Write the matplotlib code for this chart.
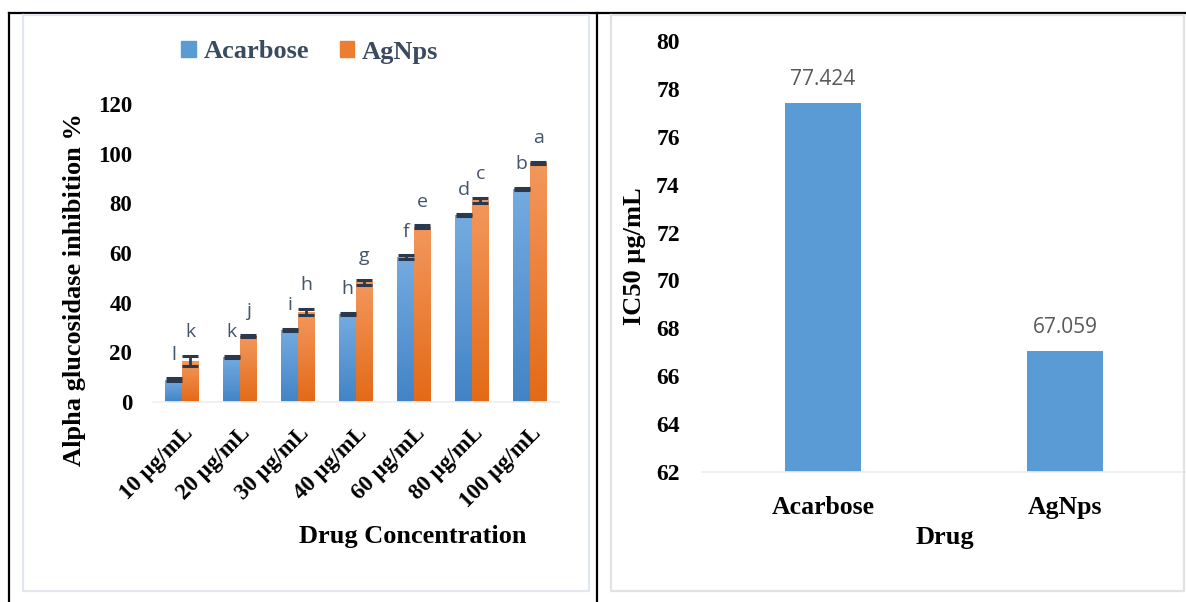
import numpy as np
import matplotlib
matplotlib.use('Agg')
import matplotlib.pyplot as plt
from matplotlib.colors import LinearSegmentedColormap
from matplotlib.lines import Line2D
from matplotlib.patches import Patch

# data
concs = ['10 µg/mL', '20 µg/mL', '30 µg/mL', '40 µg/mL', '60 µg/mL', '80 µg/mL', '100 µg/mL']
acarbose = [9.0, 18.2, 29.0, 35.3, 58.2, 75.2, 85.8]
acarbose_err = [0.5, 0.4, 0.4, 0.4, 0.8, 0.4, 0.4]
agnps = [16.5, 26.5, 36.2, 48.2, 70.6, 81.2, 96.2]
agnps_err = [2.0, 0.5, 1.2, 1.0, 0.5, 1.0, 0.4]
acarbose_letters = ['l', 'k', 'i', 'h', 'f', 'd', 'b']
agnps_letters = ['k', 'j', 'h', 'g', 'e', 'c', 'a']

drugs = ['Acarbose', 'AgNps']
ic50 = [77.424, 67.059]

W, H = 1186, 602
fig = plt.figure(figsize=(W / 100, H / 100), dpi=100)
serif = 'Liberation Serif'
sans = 'Open Sans'


def fx(px):
    return px / W


def fy(py):
    return 1 - py / H


def grad_bar(ax, x, h, w, c_top, c_bot):
    bar = ax.bar(x, h, w, color=c_bot, zorder=2)[0]
    cmap = LinearSegmentedColormap.from_list('g', [c_bot, c_top])
    img = ax.imshow(np.linspace(0, 1, 64).reshape(-1, 1), extent=[x - w / 2, x + w / 2, 0, h],
                    origin='lower', cmap=cmap, aspect='auto', zorder=2.1)
    img.set_clip_path(bar)


# frames
for xs, ys in [([9, 1186], [13, 13]), ([9, 9], [13, 602]), ([597, 597], [13, 602])]:
    fig.add_artist(Line2D([fx(x) for x in xs], [fy(y) for y in ys], color='black', lw=1.6))
for x0, x1, c in [(23, 589, '#E3E7EF'), (611, 1184, '#E2E2E2')]:
    fig.add_artist(Line2D([fx(x0), fx(x0), fx(x1), fx(x1), fx(x0)],
                          [fy(15), fy(591), fy(591), fy(15), fy(15)], color=c, lw=1.6))

# left chart
ax = fig.add_axes([fx(153), fy(402), fx(559) - fx(153), fy(104) - fy(402)])
bw = 0.293
x = np.arange(len(concs))
for i in x:
    grad_bar(ax, i - bw / 2, acarbose[i], bw, '#74ABE0', '#4384C6')
    grad_bar(ax, i + bw / 2, agnps[i], bw, '#F3975C', '#E36A17')
ax.errorbar(x - bw / 2, acarbose, yerr=acarbose_err, fmt='none', ecolor='#2B394C',
            elinewidth=2, capsize=5.5, capthick=2.2, zorder=3)
ax.errorbar(x + bw / 2, agnps, yerr=agnps_err, fmt='none', ecolor='#2B394C',
            elinewidth=2, capsize=5.5, capthick=2.2, zorder=3)
for i in x:
    ax.text(i - bw / 2, acarbose[i] + acarbose_err[i] + 6, acarbose_letters[i], ha='center',
            va='bottom', fontsize=14, color='#44546A', family=sans)
    ax.text(i + bw / 2, agnps[i] + agnps_err[i] + 6, agnps_letters[i], ha='center',
            va='bottom', fontsize=14, color='#44546A', family=sans)
ax.set_xlim(-0.5, 6.5)
ax.set_ylim(0, 120)
ax.set_yticks(range(0, 121, 20))
ax.set_xticks(x)
ax.set_xticklabels(concs, rotation=45, ha='right', rotation_mode='anchor')
for lab in ax.get_xticklabels() + ax.get_yticklabels():
    lab.set_family(serif)
    lab.set_fontweight('bold')
    lab.set_fontsize(16.5)
ax.tick_params(axis='y', length=0, pad=15)
ax.tick_params(axis='x', length=0, pad=15)
for s in ['top', 'right', 'left']:
    ax.spines[s].set_visible(False)
ax.spines['bottom'].set_color('#EFEFEF')
ax.spines['bottom'].set_linewidth(1.2)
ax.set_ylabel('Alpha glucosidase inhibition %', family=serif, fontweight='bold', fontsize=19)
ax.yaxis.set_label_coords(-0.165, 0.376)
fig.text(fx(413), fy(537), 'Drug Concentration', family=serif, fontweight='bold',
         fontsize=19, ha='center', va='center')

handles = [Patch(color='#5B9BD5'), Patch(color='#ED7D31')]
fig.legend(handles, ['Acarbose', 'AgNps'], loc='center', bbox_to_anchor=(fx(310), fy(52)),
           ncol=2, frameon=False, handlelength=0.55, handleheight=0.55, handletextpad=0.3,
           columnspacing=1.15, prop={'family': serif, 'weight': 'bold', 'size': 19},
           labelcolor='#3A4A5F')

# right chart
ax2 = fig.add_axes([fx(702), fy(472), fx(1186) - fx(702), fy(41) - fy(472)])
ax2.bar(range(len(drugs)), ic50, 0.315, bottom=0, color='#5B9BD5', zorder=2)
for i, v in enumerate(ic50):
    ax2.annotate(f'{v:.3f}', (i, v), xytext=(0, 17), textcoords='offset points', ha='center',
                 va='center', fontsize=15, color='#595959', family=sans)
ax2.set_xlim(-0.5, 1.5)
ax2.set_ylim(62, 80)
ax2.set_yticks(range(62, 81, 2))
ax2.set_xticks(range(len(drugs)))
ax2.set_xticklabels(drugs)
for lab in ax2.get_yticklabels():
    lab.set_family(serif)
    lab.set_fontweight('bold')
    lab.set_fontsize(17)
for lab in ax2.get_xticklabels():
    lab.set_family(serif)
    lab.set_fontweight('bold')
    lab.set_fontsize(18.5)
ax2.tick_params(axis='y', length=0, pad=16)
ax2.tick_params(axis='x', length=0, pad=17)
for s in ['top', 'right', 'left']:
    ax2.spines[s].set_visible(False)
ax2.spines['bottom'].set_color('#EFEFEF')
ax2.spines['bottom'].set_linewidth(1.2)
ax2.set_ylabel('IC50 µg/mL', family=serif, fontweight='bold', fontsize=19)
ax2.yaxis.set_label_coords(-0.1157, 0.5)
ax2.set_xlabel('Drug', family=serif, fontweight='bold', fontsize=19)
ax2.xaxis.set_label_coords(0.502, -0.151)
ax2.xaxis.label.set_va('center')

fig.savefig('out.png', dpi=100)
